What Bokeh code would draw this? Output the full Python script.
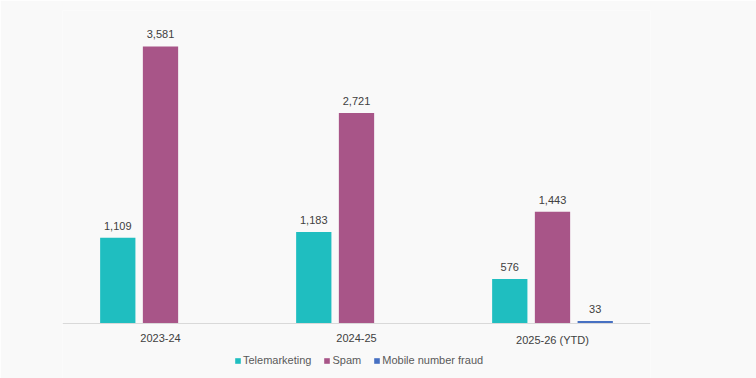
from bokeh.plotting import figure
from bokeh.models import ColumnDataSource, LabelSet, Legend, LegendItem, Range1d, Span
from bokeh.core.properties import value
from bokeh.transform import dodge
from bokeh.embed import file_html
from bokeh.resources import INLINE

years = ["2023-24", "2024-25", "2025-26 (YTD)"]
telemarketing = [1109, 1183, 576]
spam = [3581, 2721, 1443]
mobile_fraud = [None, None, 33]

series = [
    ("Telemarketing", telemarketing, "#1fbec0", -0.218),
    ("Spam", spam, "#a85588", 0.0),
    ("Mobile number fraud", mobile_fraud, "#4670c2", 0.218),
]

BG = "#f9f9f9"
FONT = "Liberation Sans"

p = figure(x_range=years, frame_width=588, frame_height=368, output_backend="svg",
           toolbar_location=None, min_border_left=62, min_border_right=106,
           min_border_top=10, min_border_bottom=0,
           background_fill_color=BG, border_fill_color=BG, outline_line_color=None)
p.y_range = Range1d(-711, 4046)
p.x_range.range_padding = 0
p.xaxis.visible = False
p.yaxis.visible = False
p.xgrid.visible = False
p.ygrid.visible = False

p.add_layout(Span(location=0, dimension="width", line_color="#d9d9d9", line_width=1))

items = []
for name, vals, color, off in series:
    xs = [y for y, v in zip(years, vals) if v is not None]
    vs = [v for v in vals if v is not None]
    src = ColumnDataSource(dict(x=xs, v=vs, t=[f"{v:,}" for v in vs]))
    r = p.vbar(x=dodge("x", off, range=p.x_range), top="v", width=0.18, source=src,
               color=color, line_color=None)
    items.append(LegendItem(label=name, renderers=[r]))
    p.add_layout(LabelSet(x=dodge("x", off, range=p.x_range), y="v", text="t", source=src,
                          text_align="center", text_baseline="bottom", y_offset=8,
                          text_font=value(FONT), text_font_size="11px", text_color="#404040"))

cat_src = ColumnDataSource(dict(x=years, y=[0] * len(years), t=years))
p.add_layout(LabelSet(x="x", y="y", text="t", source=cat_src, text_align="center",
                      text_baseline="top", y_offset=-11, text_font=value(FONT),
                      text_font_size="11px", text_color="#404040"))

legend = Legend(items=items, orientation="horizontal", location=(172, 12),
                background_fill_alpha=0, border_line_color=None,
                label_text_font=FONT, label_text_font_size="11px", label_text_color="#595959",
                glyph_width=7, glyph_height=7, label_standoff=2, spacing=12,
                padding=0, margin=0, label_height=10)
p.add_layout(legend, "center")

open("out.html", "w").write(file_html(p, INLINE))
